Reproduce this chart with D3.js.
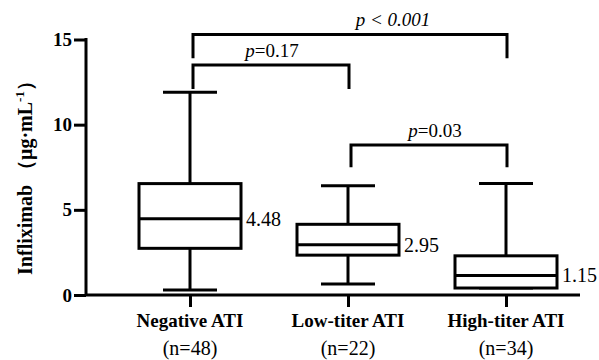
<!DOCTYPE html>
<html>
<head>
<meta charset="utf-8">
<script src="https://cdn.jsdelivr.net/npm/d3@7"></script>
<style>
  body { margin: 0; background: #fff; }
  svg, svg text { font-family: "Liberation Serif", "Times New Roman", serif; }
  svg { display: block; }
</style>
</head>
<body>
<div id="chart"></div>
<script>
// box plot: infliximab level by ATI group

var groups = ["Negative ATI", "Low-titer ATI", "High-titer ATI"];
var counts = ["(n=48)", "(n=22)", "(n=34)"];
var mins    = [0.29, 0.64, 0.41];
var q1s     = [2.74, 2.34, 0.41];
var medians = [4.48, 2.95, 1.15];
var q3s     = [6.54, 4.15, 2.30];
var maxs    = [11.9, 6.42, 6.54];
var yTicks  = [0, 5, 10, 15];

// comparisons: [from group, to group, bracket level, leg level, label]
var compFrom  = [0, 0, 1];
var compTo    = [2, 1, 2];
var compTop   = [15.3, 13.5, 8.8];
var compLeg   = [13.9, 12.1, 7.5];
var compLabel = ["p < 0.001", "p=0.17", "p=0.03"];
var labelShift = [45, 3, 8];

var width = 599, height = 360;
var margin = {left: 86, right: 19, top: 39.5, bottom: 65};

var svg = d3.select("#chart").append("svg")
    .attr("width", width)
    .attr("height", height);

var x = d3.scalePoint()
    .domain(groups)
    .range([190, 506]);

var y = d3.scaleLinear()
    .domain([0, 15])
    .range([height - margin.bottom, margin.top]);

var boxW = 102, capW = 54, lw = 3;

//// AXES ///////////////////////////////////////////////////////////////////////

var yAxis = svg.append("g")
    .attr("transform", "translate(" + margin.left + ",0)")
    .call(d3.axisLeft(y).tickValues(yTicks).tickSize(12).tickPadding(2));
yAxis.attr("font-family", null).attr("font-size", null);
yAxis.select(".domain").attr("stroke-width", lw).attr("d", "M0," + (y(15) - 1.5) + "V" + y(0));
yAxis.selectAll(".tick line").attr("stroke-width", lw);
yAxis.selectAll(".tick text")
    .style("font-size", "19px")
    .style("font-weight", "bold")
    .attr("fill", "#000");

var xAxis = svg.append("g")
    .attr("transform", "translate(0," + y(0) + ")")
    .call(d3.axisBottom(x).tickSize(12).tickFormat(""));
xAxis.select(".domain").attr("stroke-width", lw).attr("d", "M" + margin.left + ",0H" + (width - margin.right));
xAxis.selectAll(".tick line").attr("stroke-width", lw);

var xl = svg.append("g");
xl.selectAll("text.grp").data(groups).enter().append("text")
    .attr("x", function(d) { return x(d); })
    .attr("y", 327)
    .attr("text-anchor", "middle")
    .style("font-size", "19px")
    .style("font-weight", "bold")
    .text(function(d) { return d; });
xl.selectAll("text.n").data(counts).enter().append("text")
    .attr("x", function(d, i) { return x(groups[i]); })
    .attr("y", 355)
    .attr("text-anchor", "middle")
    .style("font-size", "20px")
    .text(function(d) { return d; });

var ylab = svg.append("text")
    .attr("transform", "translate(32,173) rotate(-90)")
    .attr("text-anchor", "middle")
    .style("font-size", "20px")
    .style("font-weight", "bold");
ylab.append("tspan").text("Infliximab （μg·mL");
ylab.append("tspan").attr("dy", -8).style("font-size", "13px").text("-1");
ylab.append("tspan").attr("dy", 8).text("）");

//// BOXES //////////////////////////////////////////////////////////////////////

var box = svg.selectAll("g.box").data(groups).enter().append("g")
    .attr("fill", "none")
    .attr("stroke", "#000")
    .attr("stroke-width", lw);

box.append("line")
    .attr("x1", function(d) { return x(d); })
    .attr("x2", function(d) { return x(d); })
    .attr("y1", function(d, i) { return y(maxs[i]); })
    .attr("y2", function(d, i) { return y(q3s[i]); });
box.append("line")
    .attr("x1", function(d) { return x(d); })
    .attr("x2", function(d) { return x(d); })
    .attr("y1", function(d, i) { return y(q1s[i]); })
    .attr("y2", function(d, i) { return y(mins[i]); });
box.append("line")
    .attr("x1", function(d) { return x(d) - capW / 2; })
    .attr("x2", function(d) { return x(d) + capW / 2; })
    .attr("y1", function(d, i) { return y(maxs[i]); })
    .attr("y2", function(d, i) { return y(maxs[i]); });
box.append("line")
    .attr("x1", function(d) { return x(d) - capW / 2; })
    .attr("x2", function(d) { return x(d) + capW / 2; })
    .attr("y1", function(d, i) { return y(mins[i]); })
    .attr("y2", function(d, i) { return y(mins[i]); });
box.append("rect")
    .attr("x", function(d) { return x(d) - boxW / 2; })
    .attr("width", boxW)
    .attr("y", function(d, i) { return y(q3s[i]); })
    .attr("height", function(d, i) { return y(q1s[i]) - y(q3s[i]); })
    .attr("fill", "#fff");
box.append("line")
    .attr("x1", function(d) { return x(d) - boxW / 2; })
    .attr("x2", function(d) { return x(d) + boxW / 2; })
    .attr("y1", function(d, i) { return y(medians[i]); })
    .attr("y2", function(d, i) { return y(medians[i]); });

svg.selectAll("text.med").data(medians).enter().append("text")
    .attr("x", function(d, i) { return x(groups[i]) + boxW / 2 + 5; })
    .attr("y", function(d) { return y(d) + 7; })
    .style("font-size", "20px")
    .text(function(d) { return d.toFixed(2); });

//// BRACKETS ///////////////////////////////////////////////////////////////////

var br = svg.selectAll("g.br").data(compLabel).enter().append("g");
br.append("path")
    .attr("fill", "none")
    .attr("stroke", "#000")
    .attr("stroke-width", lw)
    .attr("d", function(d, i) {
        var x1 = x(groups[compFrom[i]]) + 3, x2 = x(groups[compTo[i]]) + 1;
        return "M" + x1 + "," + y(compLeg[i]) + "V" + y(compTop[i]) +
               "H" + x2 + "V" + y(compLeg[i]);
    });
br.append("text")
    .attr("x", function(d, i) {
        return (x(groups[compFrom[i]]) + x(groups[compTo[i]])) / 2 + labelShift[i];
    })
    .attr("y", function(d, i) { return y(compTop[i]) - 8; })
    .attr("text-anchor", "middle")
    .style("font-size", "19px")
    .each(function(d, i) {
        var t = d3.select(this);
        t.append("tspan").style("font-style", "italic").text("p");
        if (i === 0) {
            t.append("tspan").style("font-style", "italic").text(" < 0.001");
        } else {
            t.append("tspan").text(d.slice(1));
        }
    });
</script>
</body>
</html>
